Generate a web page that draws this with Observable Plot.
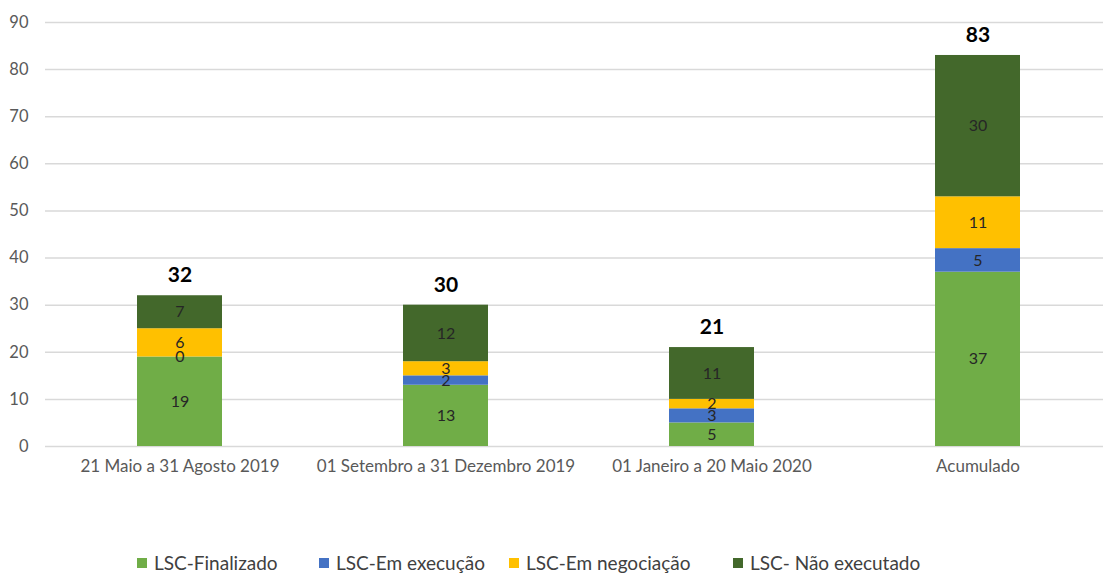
<!DOCTYPE html>
<html>
<head>
<meta charset="utf-8">
<script src="https://cdn.jsdelivr.net/npm/d3@7"></script>
<script src="https://cdn.jsdelivr.net/npm/@observablehq/plot@0.6"></script>
<style>
  html, body { margin: 0; padding: 0; background: #fff; overflow: hidden; width: 1103px; height: 574px; }
  #chart { position: relative; width: 1103px; height: 574px; overflow: hidden; }
  .legend { position: absolute; top: 550px; left: 0; width: 1103px; height: 24px; font-family: Lato, "Open Sans", sans-serif; font-size: 19px; color: #404040; }
  .item { position: absolute; top: 1px; display: flex; align-items: center; white-space: nowrap; }
  .sw { width: 10px; height: 10px; margin-right: 7px; }
</style>
</head>
<body>
<div id="chart"></div>
<script>
const categories = ["21 Maio a 31 Agosto 2019", "01 Setembro a 31 Dezembro 2019", "01 Janeiro a 20 Maio 2020", "Acumulado"];
const seriesNames = ["LSC-Finalizado", "LSC-Em execução", "LSC-Em negociação", "LSC- Não executado"];
const finalizado = [19, 13, 5, 37];
const emExecucao = [0, 2, 3, 5];
const emNegociacao = [6, 3, 2, 11];
const naoExecutado = [7, 12, 11, 30];
const totals = [32, 30, 21, 83];
const colors = ["#70AD47", "#4472C4", "#FFC000", "#43682B"];
const yTicks = [0, 10, 20, 30, 40, 50, 60, 70, 80, 90];

const seriesValues = [finalizado, emExecucao, emNegociacao, naoExecutado];
const data = [];
seriesNames.forEach((s, si) => {
  categories.forEach((c, ci) => {
    data.push({category: c, series: s, value: seriesValues[si][ci]});
  });
});
const totalData = categories.map((c, i) => ({category: c, total: totals[i]}));

const font = "Lato, 'Open Sans', sans-serif";

const chart = Plot.plot({
  width: 1113,
  height: 540,
  marginLeft: 45,
  marginRight: 1,
  marginTop: 22,
  marginBottom: 94,
  style: {fontFamily: font, fontSize: "16px", color: "#595959", background: "white", overflow: "visible"},
  x: {domain: categories, paddingInner: 0.68, paddingOuter: 0.34, label: null},
  y: {domain: [0, 90], label: null},
  color: {domain: seriesNames, range: colors},
  marks: [
    Plot.gridY(yTicks, {stroke: "#d9d9d9", strokeOpacity: 1, strokeWidth: 1.5}),
    Plot.axisY(yTicks, {tickSize: 0, tickPadding: 17, fontSize: 16.5, fill: "#595959", label: null}),
    Plot.axisX(categories, {tickSize: 0, tickPadding: 13, fontSize: 17, fill: "#595959", label: null}),
    Plot.barY(data, {x: "category", y: "value", fill: "series", order: seriesNames}),
    Plot.text(data, Plot.stackY({x: "category", y: "value", z: "series", order: seriesNames, text: "value", fill: "#262626", fontSize: 16, fontFamily: font})),
    Plot.text(totalData, {x: "category", y: "total", text: "total", dy: -20, fontSize: 21, fontWeight: "bold", fill: "#000", fontFamily: font})
  ]
});
chart.style.display = "block";
chart.style.maxWidth = "none";
document.getElementById("chart").appendChild(chart);

const legend = document.createElement("div");
legend.className = "legend";
const lefts = [137, 319, 509, 733];
seriesNames.forEach((s, i) => {
  const it = document.createElement("div");
  it.className = "item";
  it.style.left = lefts[i] + "px";
  const sw = document.createElement("span");
  sw.className = "sw";
  sw.style.background = colors[i];
  const t = document.createElement("span");
  t.textContent = s;
  it.appendChild(sw);
  it.appendChild(t);
  legend.appendChild(it);
});
document.getElementById("chart").appendChild(legend);
</script>
</body>
</html>
